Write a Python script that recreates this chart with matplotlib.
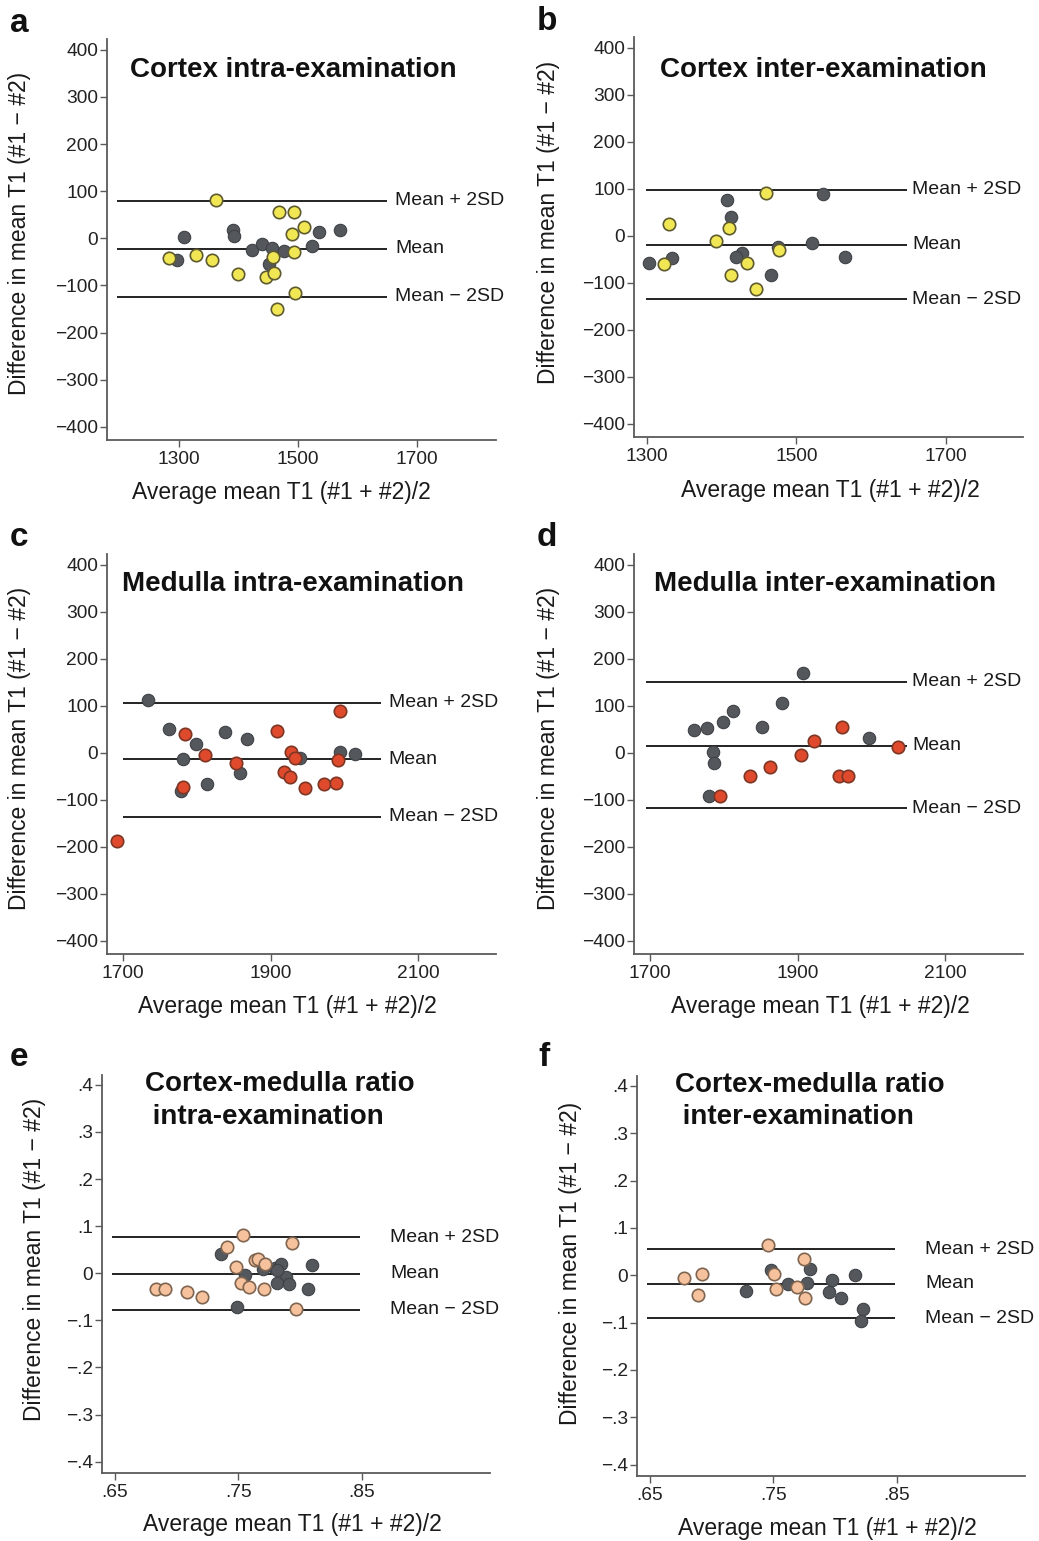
import matplotlib
matplotlib.use('Agg')
import matplotlib.pyplot as plt

plt.rcParams['font.family'] = ['Liberation Sans', 'DejaVu Sans']

W, H = 1039, 1541
fig = plt.figure(figsize=(W / 100, H / 100), dpi=100)

# ---------------- data ----------------
a_gray_x = [1309, 1390, 1392, 1297, 1423, 1439, 1457, 1477, 1451, 1523, 1536, 1571]
a_gray_y = [3, 17, 5, -45, -24, -12, -20, -27, -54, -17, 14, 18]
a_col_x = [1363, 1469, 1494, 1510, 1490, 1283, 1329, 1355, 1458, 1494, 1399, 1447, 1460, 1495, 1465]
a_col_y = [82, 56, 56, 24, 9, -42, -35, -46, -39, -29, -75, -82, -74, -116, -150]
a_limits = [80, -22, -124]

b_gray_x = [1535, 1407, 1412, 1475, 1521, 1428, 1420, 1334, 1303, 1466, 1565]
b_gray_y = [89, 77, 40, -23, -16, -36, -45, -47, -58, -83, -45]
b_col_x = [1459, 1330, 1410, 1392, 1477, 1434, 1323, 1413, 1446]
b_col_y = [91, 26, 17, -12, -30, -57, -61, -83, -114]
b_limits = [98, -19, -135]

c_gray_x = [1733, 1762, 1799, 1838, 1868, 1781, 1858, 1813, 1778, 1939, 1993, 2014]
c_gray_y = [113, 50, 19, 44, 29, -13, -43, -66, -82, -11, 2, -2]
c_col_x = [1692, 1783, 1811, 1781, 1853, 1908, 1927, 1933, 1918, 1926, 1946, 1972, 1988, 1993, 1991]
c_col_y = [-188, 40, -4, -72, -22, 46, 1, -11, -40, -52, -75, -67, -65, 89, -15]
c_limits = [107, -14, -136]

d_gray_x = [1907, 1878, 1812, 1799, 1777, 1759, 1852, 1996, 1785, 1786, 1780]
d_gray_y = [169, 105, 90, 66, 53, 48, 54, 31, 2, -21, -92]
d_col_x = [1794, 1835, 1862, 1904, 1922, 1960, 1956, 1968, 2036]
d_col_y = [-92, -50, -31, -5, 26, 56, -49, -49, 12]
d_limits = [151, 15.5, -118]

e_gray_x = [0.736, 0.7555, 0.7696, 0.7795, 0.7842, 0.8092, 0.7882, 0.7814, 0.7906, 0.806, 0.7485, 0.781]
e_gray_y = [0.040, -0.004, 0.0095, 0.012, 0.019, 0.017, -0.007, -0.020, -0.022, -0.034, -0.071, 0.007]
e_col_x = [0.7534, 0.741, 0.793, 0.7634, 0.766, 0.7717, 0.748, 0.752, 0.7583, 0.771, 0.6835, 0.6903, 0.708, 0.7207, 0.7963]
e_col_y = [0.081, 0.056, 0.065, 0.029, 0.031, 0.0195, 0.013, -0.021, -0.029, -0.034, -0.034, -0.033, -0.039, -0.051, -0.076]
e_limits = [0.077, -0.001, -0.077]

f_gray_x = [0.748, 0.7798, 0.728, 0.7615, 0.7774, 0.797, 0.7949, 0.805, 0.8162, 0.8225, 0.8208]
f_gray_y = [0.012, 0.013, -0.033, -0.018, -0.016, -0.011, -0.036, -0.047, 0.0015, -0.072, -0.096]
f_col_x = [0.7458, 0.775, 0.6924, 0.6778, 0.7504, 0.6886, 0.752, 0.7688, 0.7755]
f_col_y = [0.0645, 0.034, 0.0036, -0.006, 0.003, -0.041, -0.028, -0.025, -0.049]
f_limits = [0.055, -0.018, -0.091]

limit_labels = ['Mean + 2SD', 'Mean', 'Mean \u2212 2SD']

t1_yticks = [400, 300, 200, 100, 0, -100, -200, -300, -400]
t1_yticklabels = ['400', '300', '200', '100', '0', '\u2212100', '\u2212200', '\u2212300', '\u2212400']
r_yticks = [0.4, 0.3, 0.2, 0.1, 0, -0.1, -0.2, -0.3, -0.4]
r_yticklabels = ['.4', '.3', '.2', '.1', '0', '\u2212.1', '\u2212.2', '\u2212.3', '\u2212.4']
ctx_xticks = [1300, 1500, 1700]
med_xticks = [1700, 1900, 2100]
r_xticks = [0.65, 0.75, 0.85]
r_xticklabels = ['.65', '.75', '.85']

xlabel = 'Average mean T1 (#1 + #2)/2'
ylabel = 'Difference in mean T1 (#1 \u2212 #2)'

GRAY_FC, GRAY_EC = '#54585c', '#3e4246'
YEL_FC, YEL_EC = '#f1e653', '#5e5a30'
RED_FC, RED_EC = '#e04a2c', '#7d3625'
PCH_FC, PCH_EC = '#f6c29d', '#7f6550'

panels = [
    dict(letter='a', rect=(107, 39, 496, 440), xlim=(1179, 1833), ylim=(-428, 423),
         xticks=ctx_xticks, xticklabels=[str(v) for v in ctx_xticks],
         yticks=t1_yticks, yticklabels=t1_yticklabels,
         gx=a_gray_x, gy=a_gray_y, cx=a_col_x, cy=a_col_y, fc=YEL_FC, ec=YEL_EC,
         lim=a_limits, lx=(1196, 1650), loff=8,
         title=['Cortex intra-examination'], tpos=[(130, 70)],
         lpos=(10, 24), xlpos=(281, 493), ylpos=(20, 233)),
    dict(letter='b', rect=(634, 37, 1023, 437), xlim=(1283, 1803), ylim=(-428, 423),
         xticks=ctx_xticks, xticklabels=[str(v) for v in ctx_xticks],
         yticks=t1_yticks, yticklabels=t1_yticklabels,
         gx=b_gray_x, gy=b_gray_y, cx=b_col_x, cy=b_col_y, fc=YEL_FC, ec=YEL_EC,
         lim=b_limits, lx=(1299, 1648), loff=5,
         title=['Cortex inter-examination'], tpos=[(660, 70)],
         lpos=(537, 22), xlpos=(830, 490), ylpos=(548, 222)),
    dict(letter='c', rect=(107, 554, 496, 954), xlim=(1678, 2205), ylim=(-428, 423),
         xticks=med_xticks, xticklabels=[str(v) for v in med_xticks],
         yticks=t1_yticks, yticklabels=t1_yticklabels,
         gx=c_gray_x, gy=c_gray_y, cx=c_col_x, cy=c_col_y, fc=RED_FC, ec=RED_EC,
         lim=c_limits, lx=(1700, 2049), loff=8,
         title=['Medulla intra-examination'], tpos=[(122, 584)],
         lpos=(10, 538), xlpos=(287, 1007), ylpos=(20, 748)),
    dict(letter='d', rect=(634, 554, 1023, 954), xlim=(1678, 2205), ylim=(-428, 423),
         xticks=med_xticks, xticklabels=[str(v) for v in med_xticks],
         yticks=t1_yticks, yticklabels=t1_yticklabels,
         gx=d_gray_x, gy=d_gray_y, cx=d_col_x, cy=d_col_y, fc=RED_FC, ec=RED_EC,
         lim=d_limits, lx=(1694, 2048), loff=5,
         title=['Medulla inter-examination'], tpos=[(654, 584)],
         lpos=(537, 538), xlpos=(820, 1007), ylpos=(548, 748)),
    dict(letter='e', rect=(102, 1075, 490, 1473), xlim=(0.6395, 0.9536), ylim=(-0.424, 0.421),
         xticks=r_xticks, xticklabels=r_xticklabels,
         yticks=r_yticks, yticklabels=r_yticklabels,
         gx=e_gray_x, gy=e_gray_y, cx=e_col_x, cy=e_col_y, fc=PCH_FC, ec=PCH_EC,
         lim=e_limits, lx=(0.648, 0.8484), loff=30,
         title=['Cortex-medulla ratio', ' intra-examination'], tpos=[(145, 1084), (145, 1117)],
         lpos=(10, 1057), xlpos=(292, 1525), ylpos=(35, 1259)),
    dict(letter='f', rect=(637, 1076, 1025, 1476), xlim=(0.6395, 0.9536), ylim=(-0.424, 0.421),
         xticks=r_xticks, xticklabels=r_xticklabels,
         yticks=r_yticks, yticklabels=r_yticklabels,
         gx=f_gray_x, gy=f_gray_y, cx=f_col_x, cy=f_col_y, fc=PCH_FC, ec=PCH_EC,
         lim=f_limits, lx=(0.648, 0.8484), loff=30,
         title=['Cortex-medulla ratio', ' inter-examination'], tpos=[(675, 1085), (675, 1117)],
         lpos=(538, 1057), xlpos=(827, 1528), ylpos=(570, 1263)),
]


def fx(px):
    return px / W


def fy(py):
    return 1 - py / H


SPINE = '#5a5a5a'
for p in panels:
    L, T, R, B = p['rect']
    ax = fig.add_axes([L / W, 1 - B / H, (R - L) / W, (B - T) / H])
    ax.set_xlim(*p['xlim'])
    ax.set_ylim(*p['ylim'])
    for s in ['top', 'right']:
        ax.spines[s].set_visible(False)
    for s in ['left', 'bottom']:
        ax.spines[s].set_color(SPINE)
        ax.spines[s].set_linewidth(1.3)
    ax.set_xticks(p['xticks'])
    ax.set_xticklabels(p['xticklabels'])
    ax.set_yticks(p['yticks'])
    ax.set_yticklabels(p['yticklabels'])
    ax.tick_params(axis='both', direction='out', length=5, width=1.0, color=SPINE,
                   labelsize=13.8, labelcolor='#222222')
    ax.tick_params(axis='x', pad=3)
    ax.tick_params(axis='y', pad=1.5)

    # limit lines
    for val, lab in zip(p['lim'], limit_labels):
        ax.plot(p['lx'], [val, val], color='#222222', lw=1.4, zorder=2,
                solid_capstyle='butt')
        ax.annotate(lab, xy=(p['lx'][1], val), xytext=(p['loff'] * 0.72, 0),
                    textcoords='offset points', ha='left', va='center',
                    fontsize=14, color='#1a1a1a')

    ax.scatter(p['gx'], p['gy'], s=80, c=GRAY_FC, edgecolors=GRAY_EC,
               linewidths=0.8, zorder=3)
    ax.scatter(p['cx'], p['cy'], s=80, c=p['fc'], edgecolors=p['ec'],
               linewidths=1.2, zorder=4)

    for txt, (tx, ty) in zip(p['title'], p['tpos']):
        fig.text(fx(tx), fy(ty), txt, ha='left', va='center', fontsize=20,
                 fontweight='bold', color='#111111')
    fig.text(fx(p['lpos'][0]), fy(p['lpos'][1]), p['letter'], ha='left', va='center',
             fontsize=24, fontweight='bold', color='#111111')
    fig.text(fx(p['xlpos'][0]), fy(p['xlpos'][1]), xlabel, ha='center', va='center',
             fontsize=16.5, color='#1a1a1a')
    fig.text(fx(p['ylpos'][0]), fy(p['ylpos'][1]), ylabel, ha='center', va='center',
             rotation=90, fontsize=16.5, color='#1a1a1a')

fig.savefig('out.png', dpi=100, facecolor='white')
